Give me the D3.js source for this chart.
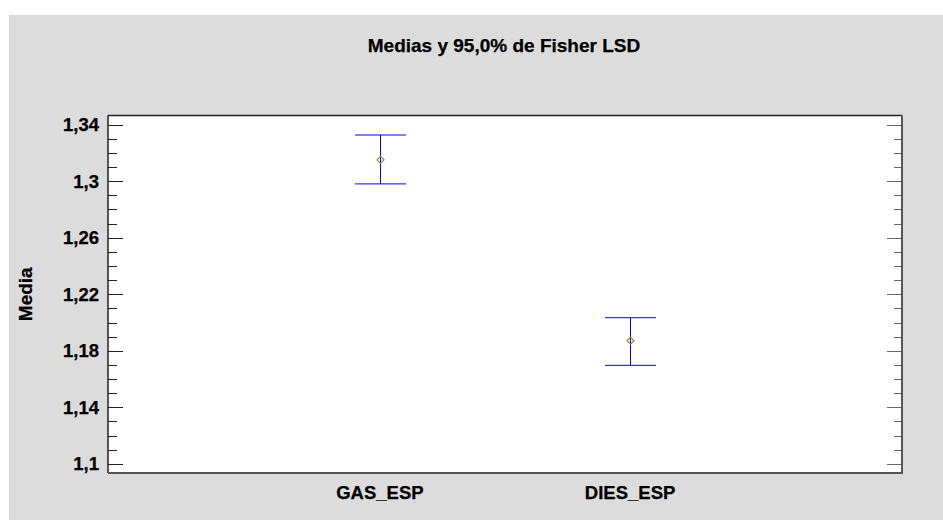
<!DOCTYPE html>
<html lang="es">
<head>
    <meta charset="UTF-8">
    <title>Medias y 95,0% de Fisher LSD</title>
    <script src="https://cdn.jsdelivr.net/npm/d3@7/dist/d3.min.js"></script>
    <style>
        body { margin: 0; background: #fff; }
        text { font-family: "Liberation Sans", Arial, sans-serif; font-weight: bold; fill: #000; stroke: #000; stroke-width: 0.25px; }
    </style>
</head>
<body>
<script>
    // datos
    const categories = ['GAS_ESP', 'DIES_ESP']
    const means = [1.3151, 1.1871]
    const lower = [1.2981, 1.1697]
    const upper = [1.3327, 1.2034]
    const yTicks = [1.1, 1.14, 1.18, 1.22, 1.26, 1.3, 1.34]
    const title = 'Medias y 95,0% de Fisher LSD'
    const yLabel = 'Media'

    const [width, height] = [943, 520]
    const plot = {left: 108, top: 115.5, right: 902, bottom: 473}
    const svg = d3.select('body').append('svg').attr('width', width).attr('height', height)

    svg.append('rect').attr('x', 9).attr('y', 15).attr('width', width - 9).attr('height', height - 15)
        .attr('fill', '#dcdcdc')
    svg.append('rect').attr('x', plot.left).attr('y', plot.top)
        .attr('width', plot.right - plot.left).attr('height', plot.bottom - plot.top)
        .attr('fill', '#fff')

    const x = d3.scalePoint().domain(categories).range([plot.left, plot.right]).padding(1.087)
    const y = d3.scaleLinear().domain([1.0935, 1.3465]).range([plot.bottom, plot.top])
    const fmt = d => String(+d.toFixed(2)).replace('.', ',')
    const minor = d3.range(1.1, 1.345, 0.01).map(d => +d.toFixed(2))
    const isMajor = d => yTicks.some(t => Math.abs(t - d) < 1e-6)

    // eje izquierdo
    const left = svg.append('g').attr('transform', `translate(${plot.left},0)`)
    left.selectAll('line').data(minor).join('line')
        .attr('x1', 0).attr('x2', d => isMajor(d) ? 15 : 9)
        .attr('y1', d => Math.round(y(d)) + 0.5).attr('y2', d => Math.round(y(d)) + 0.5)
        .attr('stroke', '#222')
    left.selectAll('text').data(yTicks).join('text')
        .attr('x', -9).attr('y', d => y(d)).attr('dy', '0.35em')
        .attr('text-anchor', 'end').style('font-size', '18.5px').text(fmt)

    // eje derecho
    const right = svg.append('g').attr('transform', `translate(${plot.right},0)`)
    right.selectAll('line').data(minor).join('line')
        .attr('x1', 0).attr('x2', d => isMajor(d) ? -15 : -8)
        .attr('y1', d => Math.round(y(d)) + 0.5).attr('y2', d => Math.round(y(d)) + 0.5)
        .attr('stroke', '#666')

    // marco
    svg.append('line').attr('x1', plot.left).attr('x2', plot.right).attr('y1', plot.top).attr('y2', plot.top)
        .attr('stroke', '#222').attr('stroke-width', 1.5)
    svg.append('line').attr('x1', plot.left).attr('x2', plot.left).attr('y1', plot.top).attr('y2', plot.bottom)
        .attr('stroke', '#222').attr('stroke-width', 1.5)
    svg.append('line').attr('x1', plot.right).attr('x2', plot.right).attr('y1', plot.top).attr('y2', plot.bottom + 1)
        .attr('stroke', '#555').attr('stroke-width', 2)
    svg.append('line').attr('x1', plot.left).attr('x2', plot.right + 1).attr('y1', plot.bottom).attr('y2', plot.bottom)
        .attr('stroke', '#555').attr('stroke-width', 2)

    // intervalos LSD
    const cap = 25.5
    const bars = svg.append('g').selectAll('g').data(categories).join('g')
        .attr('transform', d => `translate(${Math.round(x(d)) + 0.5},0)`)
    bars.append('line').attr('y1', (d, i) => y(upper[i])).attr('y2', (d, i) => y(lower[i]))
        .attr('stroke', '#0000ff')
    bars.append('line').attr('x1', -cap).attr('x2', cap)
        .attr('y1', (d, i) => y(upper[i])).attr('y2', (d, i) => y(upper[i])).attr('stroke', '#0000ff')
    bars.append('line').attr('x1', -cap).attr('x2', cap)
        .attr('y1', (d, i) => y(lower[i])).attr('y2', (d, i) => y(lower[i])).attr('stroke', '#0000ff')
    bars.append('path')
        .attr('d', (d, i) => { const c = y(means[i]); return `M-3.5,${c}L0,${c - 3.5}L3.5,${c}L0,${c + 3.5}Z` })
        .attr('fill', 'none').attr('stroke', '#8f8a3c').attr('stroke-width', 1.2)

    // etiquetas de categorías
    svg.append('g').selectAll('text').data(categories).join('text')
        .attr('x', d => x(d)).attr('y', 499).attr('text-anchor', 'middle')
        .style('font-size', '18.5px').text(d => d)

    svg.append('text').attr('x', 504).attr('y', 52).attr('text-anchor', 'middle')
        .style('font-size', '19px').text(title)
    svg.append('text').attr('transform', `translate(31.5,${(plot.top + plot.bottom) / 2}) rotate(-90)`)
        .attr('text-anchor', 'middle').style('font-size', '19px').text(yLabel)
</script>
</body>
</html>
